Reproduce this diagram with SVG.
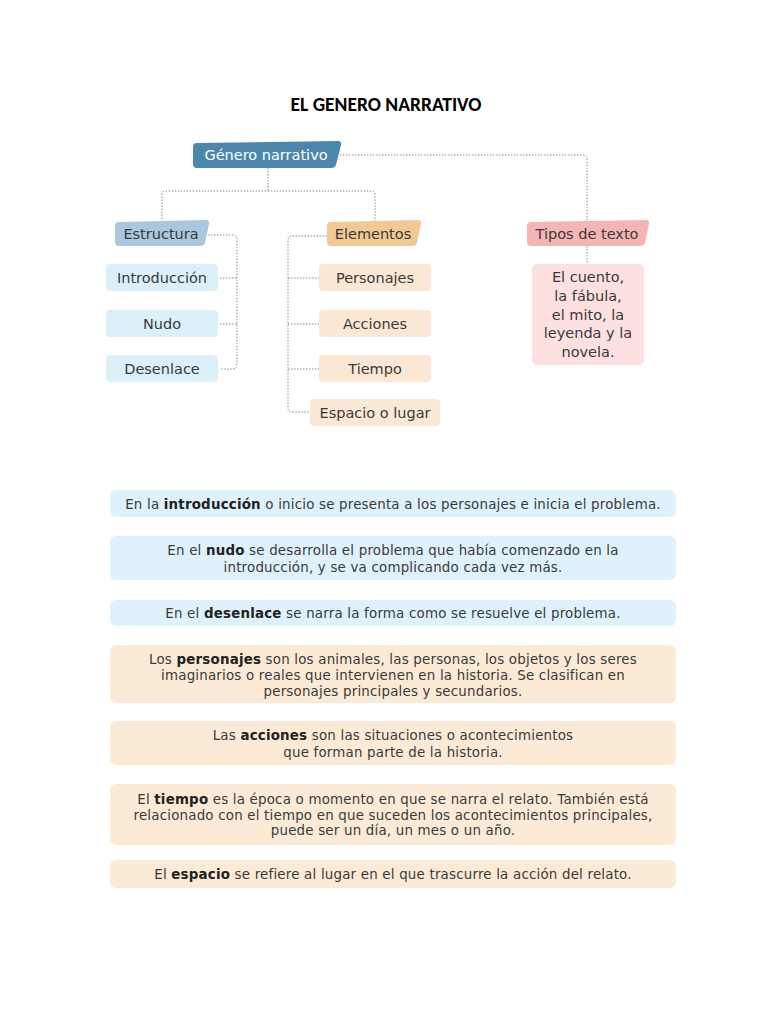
<svg xmlns="http://www.w3.org/2000/svg" width="768" height="1024" viewBox="0 0 768 1024">
<style>
.t{font-family:"DejaVu Sans","Liberation Sans",sans-serif;fill:#3a3a3a;text-anchor:middle}
.n{font-size:14.5px}
.d{font-size:13.4px;letter-spacing:0.2px}
.b{font-weight:bold;fill:#222}
.c{fill:none;stroke:#8a8a8a;stroke-width:1;stroke-dasharray:1.5 1.5}
.lb{fill:#dcf0fa}
.lo{fill:#fbe8d4}
.dl{fill:#dff1fa}
.do{fill:#fbebd6}
</style>
<rect width="768" height="1024" fill="#fff"/>
<text x="386" y="111" font-family="Carlito,'Liberation Sans',sans-serif" font-size="19.5" font-weight="bold" text-anchor="middle" fill="#000">EL GENERO NARRATIVO</text>

<g id="connectors">
<path class="c" d="M340,155 H583 Q587,155 587,159 V222"/>
<path class="c" d="M268,168 V191"/>
<path class="c" d="M162,222 V195 Q162,191 166,191 H371 Q375,191 375,195 V222"/>
<path class="c" d="M208,235 H233 Q237,235 237,239 V365 Q237,369 233,369 H220"/>
<path class="c" d="M220,278 H237 M220,324 H237"/>
<path class="c" d="M327,236 H292 Q288,236 288,240 V408 Q288,412 292,412 H310"/>
<path class="c" d="M288,278 H319 M288,324 H319 M288,369 H319"/>
<path class="c" d="M587,246 V264"/>
</g>

<g id="genero">
<path d="M197,143 L338,141 Q342,141 341,145 L336,165 Q335,168 331,168 L197,168 Q193,168 193,164 L193,147 Q193,143 197,143 Z" fill="#4b87ad"/>
<text class="t n" x="266" y="160" style="fill:#fff">Género narrativo</text>
</g>
<g id="estructura">
<path d="M119,222 L206,220 Q210,220 209,224 L205,243 Q204,246 200,246 L119,246 Q115,246 115,242 L115,226 Q115,222 119,222 Z" fill="#a9c8de"/>
<text class="t n" x="161" y="239">Estructura</text>
</g>
<g id="elementos">
<path d="M331,222 L418,220 Q422,220 421,224 L417,243 Q416,246 412,246 L331,246 Q327,246 327,242 L327,226 Q327,222 331,222 Z" fill="#f2c994"/>
<text class="t n" x="373" y="239">Elementos</text>
</g>
<g id="tipos">
<path d="M531,222 L646,220 Q650,220 649,224 L645,243 Q644,246 640,246 L531,246 Q527,246 527,242 L527,226 Q527,222 531,222 Z" fill="#f5b4b6"/>
<text class="t n" x="587" y="239">Tipos de texto</text>
</g>

<g id="introduccion"><rect class="lb" x="106" y="264" width="112" height="27" rx="4"/><text class="t n" x="162" y="283">Introducción</text></g>
<g id="nudo"><rect class="lb" x="106" y="310" width="112" height="27" rx="4"/><text class="t n" x="162" y="329">Nudo</text></g>
<g id="desenlace"><rect class="lb" x="106" y="355" width="112" height="27" rx="4"/><text class="t n" x="162" y="374">Desenlace</text></g>

<g id="personajes"><rect class="lo" x="319" y="264" width="112" height="27" rx="4"/><text class="t n" x="375" y="283">Personajes</text></g>
<g id="acciones"><rect class="lo" x="319" y="310" width="112" height="27" rx="4"/><text class="t n" x="375" y="329">Acciones</text></g>
<g id="tiempo"><rect class="lo" x="319" y="355" width="112" height="27" rx="4"/><text class="t n" x="375" y="374">Tiempo</text></g>
<g id="espacio"><rect class="lo" x="310" y="399" width="130" height="27" rx="4"/><text class="t n" x="375" y="418">Espacio o lugar</text></g>

<g id="tipos-lista">
<rect x="532" y="264" width="112" height="101" rx="5" fill="#fde0e0"/>
<text class="t n" x="588" y="282">El cuento,</text>
<text class="t n" x="588" y="301">la fábula,</text>
<text class="t n" x="588" y="320">el mito, la</text>
<text class="t n" x="588" y="338">leyenda y la</text>
<text class="t n" x="588" y="357">novela.</text>
</g>

<g id="def-introduccion"><rect class="dl" x="110" y="490" width="566" height="27" rx="6"/>
<text class="t d" x="393" y="509">En la <tspan class="b">introducción</tspan> o inicio se presenta a los personajes e inicia el problema.</text></g>
<g id="def-nudo"><rect class="dl" x="110" y="536" width="566" height="44" rx="6"/>
<text class="t d" x="393" y="555">En el <tspan class="b">nudo</tspan> se desarrolla el problema que había comenzado en la</text>
<text class="t d" x="393" y="572">introducción, y se va complicando cada vez más.</text></g>
<g id="def-desenlace"><rect class="dl" x="110" y="600" width="566" height="26" rx="6"/>
<text class="t d" x="393" y="618">En el <tspan class="b">desenlace</tspan> se narra la forma como se resuelve el problema.</text></g>
<g id="def-personajes"><rect class="do" x="110" y="645" width="566" height="58" rx="6"/>
<text class="t d" x="393" y="664">Los <tspan class="b">personajes</tspan> son los animales, las personas, los objetos y los seres</text>
<text class="t d" x="393" y="680">imaginarios o reales que intervienen en la historia. Se clasifican en</text>
<text class="t d" x="393" y="696">personajes principales y secundarios.</text></g>
<g id="def-acciones"><rect class="do" x="110" y="721" width="566" height="44" rx="6"/>
<text class="t d" x="393" y="740">Las <tspan class="b">acciones</tspan> son las situaciones o acontecimientos</text>
<text class="t d" x="393" y="757">que forman parte de la historia.</text></g>
<g id="def-tiempo"><rect class="do" x="110" y="784" width="566" height="61" rx="6"/>
<text class="t d" x="393" y="804">El <tspan class="b">tiempo</tspan> es la época o momento en que se narra el relato. También está</text>
<text class="t d" x="393" y="820">relacionado con el tiempo en que suceden los acontecimientos principales,</text>
<text class="t d" x="393" y="835">puede ser un día, un mes o un año.</text></g>
<g id="def-espacio"><rect class="do" x="110" y="860" width="566" height="28" rx="6"/>
<text class="t d" x="393" y="879">El <tspan class="b">espacio</tspan> se refiere al lugar en el que trascurre la acción del relato.</text></g>
</svg>
